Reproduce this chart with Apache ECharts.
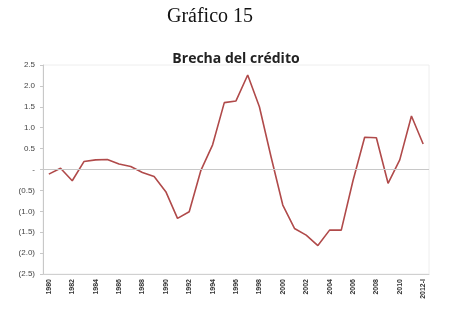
<!DOCTYPE html>
<html><head><meta charset="utf-8">
<script src="https://cdn.jsdelivr.net/npm/echarts@6/dist/echarts.min.js"></script>
<style>html,body{margin:0;padding:0;background:#fff}#c{width:454px;height:327px}</style>
</head><body><div id="c"></div>
<script>
const categories = ['1980','1981','1982','1983','1984','1985','1986','1987','1988','1989','1990','1991','1992','1993','1994','1995','1996','1997','1998','1999','2000','2001','2002','2003','2004','2005','2006','2007','2008','2009','2010','2011','2012-I'];
const brecha = [-0.11,0.03,-0.27,0.19,0.23,0.24,0.13,0.07,-0.07,-0.17,-0.53,-1.17,-1.01,-0.02,0.59,1.60,1.64,2.26,1.50,0.30,-0.85,-1.41,-1.57,-1.82,-1.45,-1.45,-0.27,0.77,0.76,-0.33,0.23,1.28,0.61];
const yTicks = [-2.5,-2.0,-1.5,-1.0,-0.5,0,0.5,1.0,1.5,2.0,2.5];

const chart = echarts.init(document.getElementById('c'));
chart.setOption({
  animation:false,
  title:[
    {text:'Gráfico 15', left:205, top:2, textAlign:'center',
     textStyle:{fontFamily:'Liberation Serif', fontWeight:'normal', fontSize:20, color:'#111'}},
    {text:'Brecha del crédito', left:231, top:47, textAlign:'center',
     textStyle:{fontFamily:'Open Sans', fontWeight:'bold', fontSize:14, color:'#222'}}
  ],
  grid:{left:43, right:25, top:65, bottom:53, show:true, borderColor:'#eeeeee', borderWidth:1},
  xAxis:{type:'category', data:categories, boundaryGap:true,
    axisLine:{onZero:false, lineStyle:{color:'#d0d0d0'}},
    axisTick:{show:false},
    axisLabel:{interval:1, rotate:90, fontSize:7, fontWeight:'bold', color:'#333', fontFamily:'Liberation Sans', margin:5}},
  yAxis:{type:'value', min:-2.5, max:2.5, interval:0.5,
    axisLine:{show:true, lineStyle:{color:'#c8c8c8'}},
    axisTick:{show:true, length:3, lineStyle:{color:'#c8c8c8'}},
    splitLine:{show:false},
    axisLabel:{fontSize:8, color:'#444', fontFamily:'Liberation Sans', margin:8,
      formatter:function(v){ if(Math.abs(v)<1e-9) return '-'; return v>0? v.toFixed(1) : '('+Math.abs(v).toFixed(1)+')'; }}},
  series:[{type:'line', data:brecha, symbol:'none',
    lineStyle:{color:'#b04a4a', width:1.6},
    markLine:{silent:true, symbol:'none', label:{show:false},
      lineStyle:{color:'#c8c8c8', type:'solid', width:1},
      data:[{yAxis:0}]}}]
});
</script></body></html>
